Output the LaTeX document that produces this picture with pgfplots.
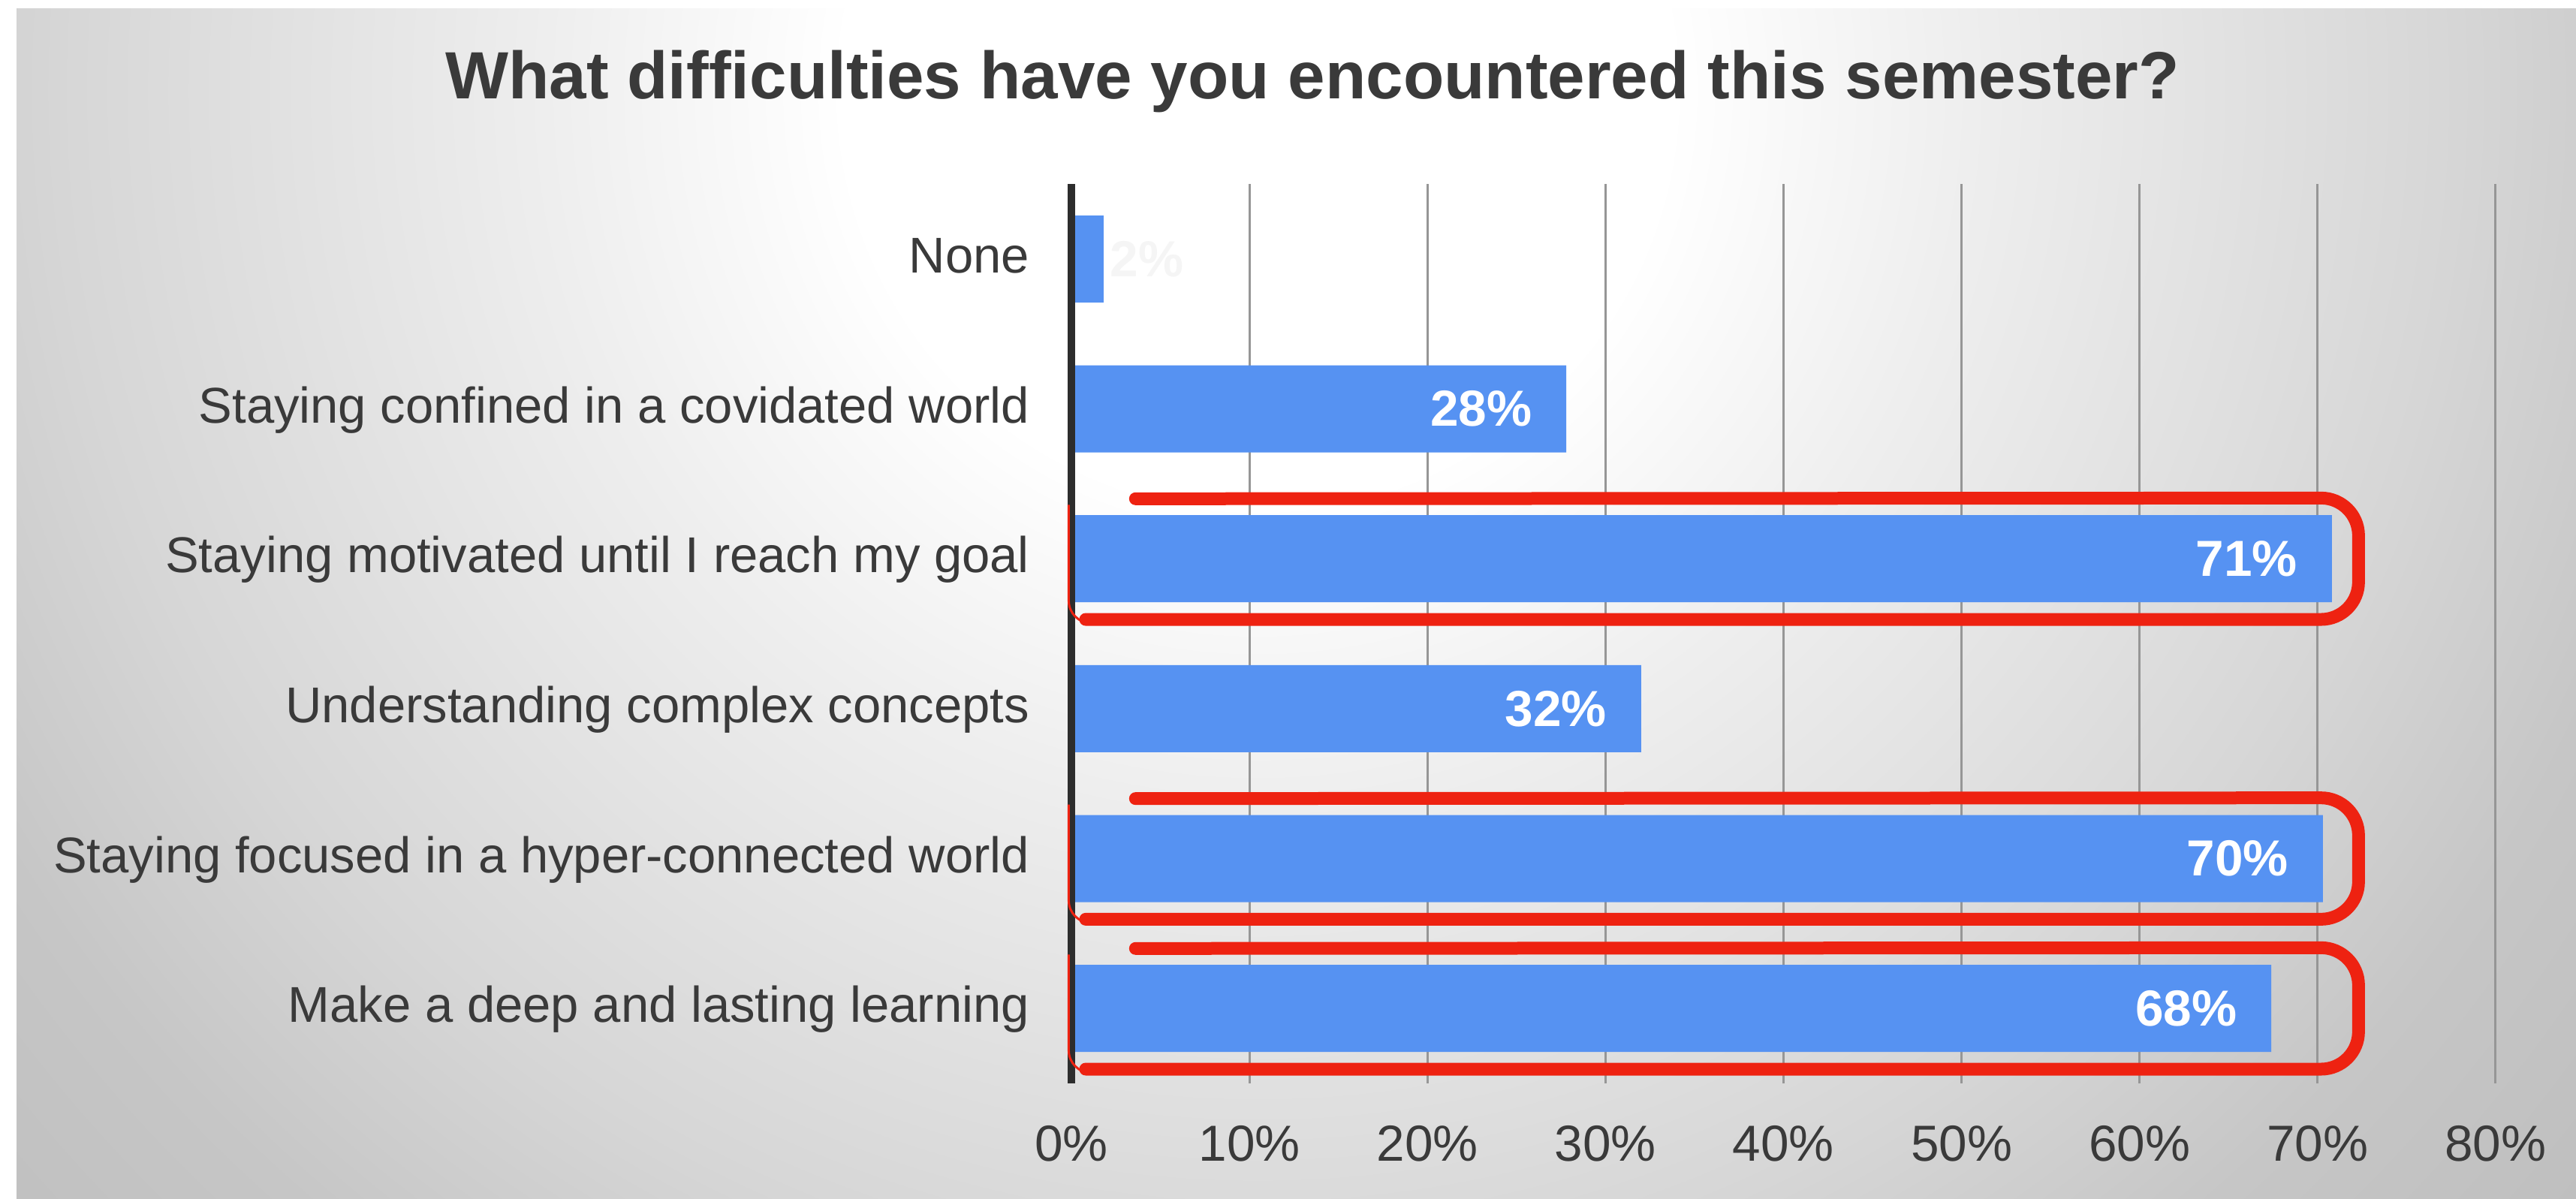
\documentclass[border=0pt]{standalone}
\usepackage{fontspec}
\setmainfont{Liberation Sans}
\usepackage{pgfplots}
\pgfplotsset{compat=1.18}
\definecolor{barblue}{RGB}{86,146,242}
\definecolor{txt}{RGB}{58,58,58}
\definecolor{hl}{RGB}{238,34,17}
\definecolor{axline}{RGB}{45,45,45}
\definecolor{gridc}{RGB}{150,150,150}
\definecolor{bga}{RGB}{255,255,255}
\definecolor{bgb}{RGB}{238,238,238}
\definecolor{bgc}{RGB}{214,214,214}
\definecolor{bgd}{RGB}{198,198,198}
\definecolor{bge}{RGB}{190,190,190}
\pgfdeclareradialshading{bgshade}{\pgfpoint{0bp}{0bp}}{color(0bp)=(bga); color(5.5bp)=(bga); color(9.5bp)=(bgb); color(16bp)=(bgc); color(19.5bp)=(bgd); color(23.5bp)=(bge); color(50bp)=(bge)}
\begin{document}
\begin{tikzpicture}
\fill[white] (0,0) rectangle (686.2pt,319.2pt);
\begin{scope}
\clip (4.4pt,0) rectangle (686.2pt,316.8pt);
\shade[shading=bgshade] (-165pt,-205pt) rectangle (835pt,795pt);
\end{scope}
\node[anchor=base, inner sep=0pt, font=\fontsize{17.8}{20}\selectfont\bfseries, text=txt] at (349.6pt,292.8pt) {What difficulties have you encountered this semester?};
\begin{axis}[
  at={(285.4pt,30.6pt)}, anchor=south west,
  scale only axis, width=379.4pt, height=239.6pt,
  xmin=0, xmax=80, ymin=-0.5, ymax=5.5,
  xbar, bar width=23.2pt, bar shift=0pt,
  axis line style={draw=none},
  major tick length=0pt,
  xtick={0,10,...,80},
  xticklabels={0\%,10\%,20\%,30\%,40\%,50\%,60\%,70\%,80\%},
  ytick={0,1,2,3,4,5},
  yticklabels={Make a deep and lasting learning,Staying focused in a hyper-connected world,Understanding complex concepts,Staying motivated until I reach my goal,Staying confined in a covidated world,None},
  xmajorgrids, grid style={draw=gridc, line width=0.6pt},
  xticklabel style={font=\fontsize{13.5}{16}\selectfont, text=txt, anchor=base, inner sep=0pt, yshift=-20.6pt},
  yticklabel style={font=\fontsize{13.4}{16}\selectfont, text=txt, anchor=base east, inner sep=0pt, xshift=-11pt, yshift=-3.7pt},
  nodes near coords, point meta=explicit symbolic,
  nodes near coords style={font=\fontsize{13.5}{16}\selectfont\bfseries, text=white, inner sep=0pt},
  clip=false
]
\addplot[fill=barblue, draw=none, every node near coord/.append style={anchor=west, xshift=1.6pt, text=white!96!black}]
  coordinates {(1.8,5) [2\%]};
\addplot[fill=barblue, draw=none, every node near coord/.append style={anchor=east, xshift=-9pt}]
  coordinates {(27.8,4) [28\%] (70.8,3) [71\%] (32.0,2) [32\%] (70.3,1) [70\%] (67.4,0) [68\%]};
\draw[axline, line width=2pt] (axis cs:0,-0.5) -- (axis cs:0,5.5);
\pgfplotsinvokeforeach{3,1,0}{
  \draw[hl, line width=3.4pt, rounded corners=10pt, line cap=round] (axis cs:3.6,#1+0.400) -- (axis cs:72.3,#1+0.405) -- (axis cs:72.3,#1-0.405) -- (axis cs:0.8,#1-0.405);
  \draw[hl, line width=0.6pt, rounded corners=6pt] (axis cs:2,#1-0.43) -- (axis cs:-0.15,#1-0.43) -- (axis cs:-0.15,#1+0.36);
}
\end{axis}
\pgfresetboundingbox
\path[use as bounding box] (0,0) rectangle (686.2pt,319.2pt);
\end{tikzpicture}
\end{document}
